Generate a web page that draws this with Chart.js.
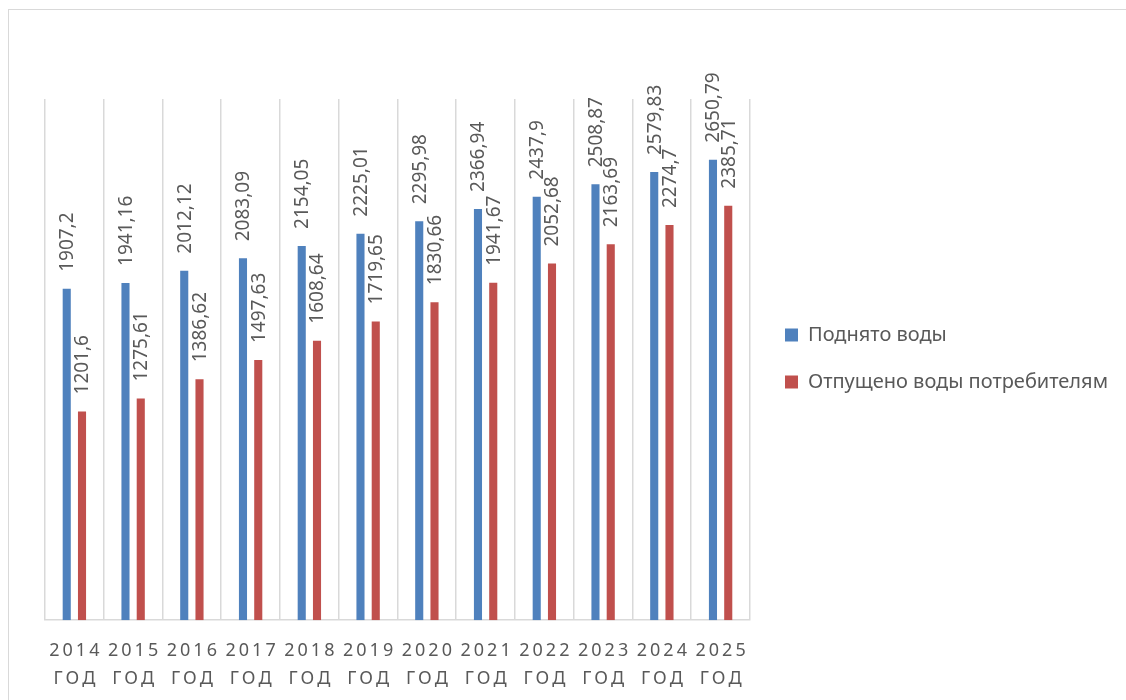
<!DOCTYPE html>
<html>
<head>
<meta charset="utf-8">
<script src="https://cdn.jsdelivr.net/npm/chart.js@4"></script>
<style>
  html, body { margin: 0; padding: 0; background: #fff; }
  #wrap { position: relative; width: 1126px; height: 700px; overflow: hidden; }
  #frame { position: absolute; left: 8px; top: 9px; width: 1130px; height: 700px; border: 1px solid #d9d9d9; box-sizing: border-box; pointer-events: none; }
  canvas { position: absolute; left: 0; top: 0; }
</style>
</head>
<body>
<div id="wrap">
  <canvas id="c" width="1126" height="700"></canvas>
  <div id="frame"></div>
</div>
<script>
const years = ["2014","2015","2016","2017","2018","2019","2020","2021","2022","2023","2024","2025"];
const yearWord = "ГОД";
const seriesNames = ["Поднято воды", "Отпущено воды потребителям"];
const raised = [1907.2, 1941.16, 2012.12, 2083.09, 2154.05, 2225.01, 2295.98, 2366.94, 2437.9, 2508.87, 2579.83, 2650.79];
const supplied = [1201.6, 1275.61, 1386.62, 1497.63, 1608.64, 1719.65, 1830.66, 1941.67, 2052.68, 2163.69, 2274.7, 2385.71];
const valueLabelsRaised = ["1907,2","1941,16","2012,12","2083,09","2154,05","2225,01","2295,98","2366,94","2437,9","2508,87","2579,83","2650,79"];
const valueLabelsSupplied = ["1201,6","1275,61","1386,62","1497,63","1608,64","1719,65","1830,66","1941,67","2052,68","2163,69","2274,7","2385,71"];

const FONT = "'Noto Sans', 'DejaVu Sans', sans-serif";
const TEXT = "#595959";

const spaced = s => s.split("").join("\u2009");
const labels = years.map(y => [spaced(y), spaced(yearWord)]);

const valueLabelPlugin = {
  id: "valueLabels",
  afterDatasetsDraw(chart) {
    const ctx = chart.ctx;
    const sets = [valueLabelsRaised, valueLabelsSupplied];
    chart.data.datasets.forEach((ds, di) => {
      const meta = chart.getDatasetMeta(di);
      meta.data.forEach((bar, i) => {
        ctx.save();
        ctx.translate(bar.x, bar.y - 17);
        ctx.rotate(-Math.PI / 2);
        ctx.font = "19px " + FONT;
        ctx.fillStyle = TEXT;
        ctx.textAlign = "left";
        ctx.textBaseline = "middle";
        ctx.fillText(sets[di][i], 0, 1);
        ctx.restore();
      });
    });
  }
};

const legendPlacePlugin = {
  id: "legendPlace",
  afterLayout(chart) {
    const lg = chart.legend;
    if (!lg) return;
    lg.left += 8;
    lg.right += 8;
    lg.bottom -= 92;
  }
};

new Chart(document.getElementById("c"), {
  type: "bar",
  data: {
    labels: labels,
    datasets: [
      { label: seriesNames[0], data: raised, backgroundColor: "#4F81BD", categoryPercentage: 0.52, barPercentage: 0.53 },
      { label: seriesNames[1], data: supplied, backgroundColor: "#C0504D", categoryPercentage: 0.52, barPercentage: 0.53 }
    ]
  },
  options: {
    responsive: false,
    animation: false,
    devicePixelRatio: 1,
    layout: { padding: { left: 45, top: 99, right: 16, bottom: -10 } },
    plugins: {
      legend: {
        position: "right",
        labels: {
          font: { family: FONT, size: 20 },
          color: TEXT,
          boxWidth: 13,
          boxHeight: 13,
          padding: 27
        }
      },
      tooltip: { enabled: false }
    },
    scales: {
      x: {
        grid: { display: true, color: "#d9d9d9", lineWidth: 1.5, drawTicks: false, offset: true },
        border: { display: true, color: "#d9d9d9", width: 1.5 },
        ticks: {
          color: TEXT,
          font: { family: FONT, size: 18, lineHeight: 1.55 },
          maxRotation: 0,
          autoSkip: false,
          padding: 17
        }
      },
      y: {
        display: false,
        min: 0,
        max: 3000
      }
    }
  },
  plugins: [valueLabelPlugin, legendPlacePlugin]
});
</script>
</body>
</html>
